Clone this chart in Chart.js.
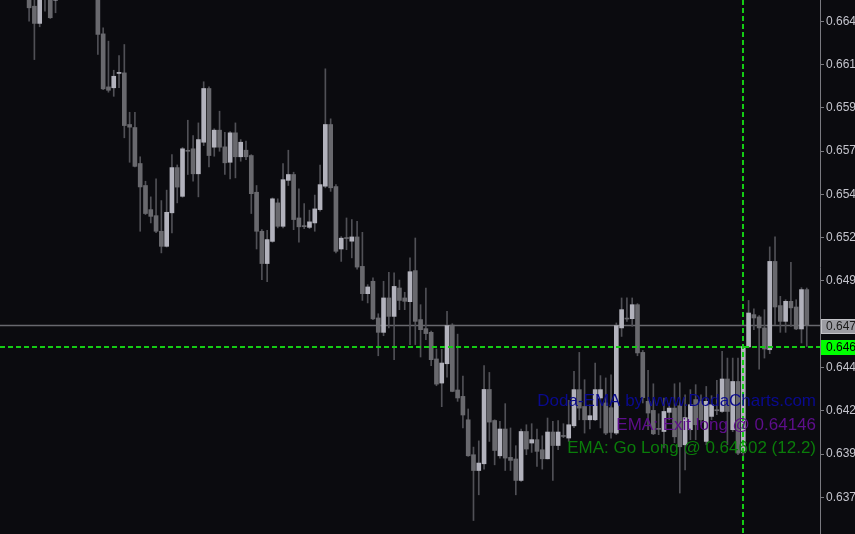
<!DOCTYPE html>
<html><head><meta charset="utf-8">
<script src="https://cdn.jsdelivr.net/npm/chart.js@4.4.1/dist/chart.umd.min.js"></script>
<style>html,body{margin:0;padding:0;background:#0b0b0f;overflow:hidden}canvas{display:block}</style>
</head><body>
<canvas id="c" width="855" height="534"></canvas>
<script>
// ---- data (OHLC per bar, oldest first) ----
const opens = [
0.66620,0.66521,0.66424,0.66620,0.66590,0.66555,0.66600,0.66650,0.66690,0.66670,
0.66700,0.66660,0.66630,0.66610,0.66365,0.66066,0.66061,0.66142,0.66145,0.65854,
0.65837,0.65634,0.65510,0.65374,0.65340,0.65252,0.65167,0.65356,0.65611,0.65449,
0.65707,0.65717,0.65576,0.65754,0.66057,0.65726,0.65822,0.65728,0.65641,0.65807,
0.65672,0.65709,0.65679,0.65472,0.65252,0.65070,0.65195,0.65412,0.65280,0.65539,
0.65572,0.65327,0.65284,0.65274,0.65299,0.65374,0.65506,0.65854,0.65504,0.65152,
0.65214,0.65196,0.65220,0.65054,0.64900,0.64970,0.64763,0.64682,0.64876,0.64772,
0.64932,0.64876,0.64855,0.65030,0.64754,0.64703,0.64682,0.64532,0.64396,0.64505,
0.64723,0.64357,0.64321,0.64189,0.63992,0.63903,0.63941,0.64360,0.64185,0.63986,
0.64137,0.63977,0.63968,0.63847,0.64123,0.64058,0.64077,0.64020,0.63969,0.64120,
0.64044,0.64099,0.64086,0.64155,0.64359,0.64264,0.64189,0.64189,0.64312,0.64284,
0.64257,0.64114,0.64707,0.64761,0.64759,0.64838,0.64569,0.64293,0.64242,0.64139,
0.64123,0.64231,0.64255,0.64268,0.64048,0.64133,0.64303,0.64293,0.64067,0.64208,
0.64244,0.64236,0.64419,0.64133,0.64405,0.64003,0.64600,0.64782,0.64769,0.64707,
0.64584,0.65082,0.64833,0.64744,0.64857,0.64825,0.64701,0.64923];
const highs = [
0.66650,0.66600,0.66640,0.66650,0.66620,0.66620,0.66680,0.66720,0.66750,0.66730,
0.66760,0.66700,0.66680,0.66640,0.66399,0.66324,0.66160,0.66243,0.66305,0.65923,
0.65923,0.65672,0.65534,0.65446,0.65547,0.65425,0.65484,0.65684,0.65626,0.65724,
0.65878,0.65792,0.65863,0.66095,0.66066,0.65830,0.65929,0.65810,0.65814,0.65863,
0.65769,0.65760,0.65684,0.65510,0.65261,0.65257,0.65440,0.65435,0.65634,0.65709,
0.65585,0.65491,0.65408,0.65371,0.65456,0.65625,0.66168,0.65886,0.65515,0.65222,
0.65327,0.65318,0.65308,0.65246,0.64951,0.64989,0.64787,0.64970,0.65020,0.65017,
0.64977,0.64908,0.65102,0.65214,0.64838,0.64932,0.64689,0.64588,0.64586,0.64800,
0.64731,0.64672,0.64436,0.64250,0.64035,0.64070,0.64494,0.64456,0.64189,0.64180,
0.64280,0.64143,0.64043,0.64137,0.64161,0.64167,0.64137,0.64099,0.64199,0.64180,
0.64185,0.64167,0.64299,0.64462,0.64569,0.64415,0.64274,0.64509,0.64438,0.64425,
0.64443,0.64735,0.64876,0.64876,0.64876,0.64844,0.64580,0.64468,0.64392,0.64223,
0.64312,0.64280,0.64392,0.64398,0.64330,0.64359,0.64387,0.64330,0.64377,0.64325,
0.64411,0.64575,0.64537,0.64537,0.64537,0.64605,0.64862,0.64814,0.64776,0.64810,
0.65164,0.65220,0.64885,0.64866,0.65077,0.64866,0.64934,0.64932];
const lows = [
0.66437,0.66220,0.66405,0.66493,0.66452,0.66484,0.66570,0.66610,0.66640,0.66620,
0.66640,0.66600,0.66580,0.66249,0.66051,0.66036,0.66013,0.66061,0.65779,0.65641,
0.65615,0.65252,0.65346,0.65299,0.65244,0.65130,0.65163,0.65243,0.65412,0.65444,
0.65572,0.65534,0.65446,0.65735,0.65615,0.65675,0.65703,0.65572,0.65547,0.65553,
0.65647,0.65656,0.65352,0.65152,0.64979,0.64968,0.65190,0.65271,0.65271,0.65510,
0.65261,0.65190,0.65267,0.65267,0.65252,0.65365,0.65497,0.65477,0.65130,0.65082,
0.65148,0.65102,0.65038,0.64862,0.64848,0.64754,0.64550,0.64663,0.64707,0.64528,
0.64810,0.64810,0.64613,0.64613,0.64543,0.64641,0.64494,0.64381,0.64263,0.64430,
0.64347,0.64293,0.64143,0.63983,0.63621,0.63766,0.63911,0.64067,0.63935,0.63973,
0.63903,0.63903,0.63766,0.63841,0.63992,0.64005,0.63926,0.63911,0.63968,0.63847,
0.64020,0.64088,0.64067,0.64144,0.64189,0.64114,0.64137,0.64184,0.64143,0.64105,
0.64086,0.64105,0.64659,0.64744,0.64716,0.64550,0.64284,0.64133,0.64105,0.64105,
0.64030,0.64189,0.64060,0.63776,0.63907,0.64077,0.64077,0.64161,0.64048,0.64189,
0.64218,0.64231,0.64048,0.64122,0.63992,0.63964,0.64596,0.64697,0.64475,0.64537,
0.64562,0.64725,0.64682,0.64682,0.64716,0.64697,0.64622,0.64603];
const closes = [
0.66512,0.66424,0.66610,0.66575,0.66456,0.66565,0.66650,0.66690,0.66670,0.66700,
0.66660,0.66630,0.66610,0.66362,0.66055,0.66047,0.66126,0.66147,0.65848,0.65839,
0.65618,0.65502,0.65352,0.65336,0.65252,0.65167,0.65359,0.65611,0.65501,0.65717,
0.65703,0.65576,0.65769,0.66057,0.65679,0.65822,0.65726,0.65638,0.65807,0.65672,
0.65754,0.65672,0.65464,0.65252,0.65070,0.65205,0.65435,0.65280,0.65543,0.65572,
0.65318,0.65277,0.65278,0.65305,0.65378,0.65515,0.65854,0.65497,0.65139,0.65213,
0.65211,0.65220,0.65050,0.64900,0.64938,0.64758,0.64682,0.64876,0.64772,0.64941,
0.64862,0.64857,0.65024,0.64744,0.64697,0.64675,0.64528,0.64390,0.64509,0.64720,
0.64349,0.64312,0.64216,0.63986,0.63903,0.63945,0.64360,0.64176,0.64016,0.64137,
0.63973,0.63960,0.63847,0.64123,0.64024,0.64077,0.64011,0.63969,0.64120,0.64044,
0.64120,0.64095,0.64161,0.64359,0.64255,0.64189,0.64212,0.64359,0.64359,0.64114,
0.64118,0.64720,0.64810,0.64757,0.64838,0.64566,0.64314,0.64227,0.64110,0.64135,
0.64236,0.64255,0.64093,0.64037,0.64201,0.64274,0.64161,0.64189,0.64293,0.64274,
0.64240,0.64419,0.64236,0.64405,0.64001,0.64602,0.64791,0.64763,0.64707,0.64588,
0.65082,0.64825,0.64744,0.64857,0.64820,0.64701,0.64923,0.64721];
const barLabels = opens.map((_, i) => 'bar ' + (i + 1));

// price-axis tick labels and chart annotations
const tickValues = [0.66436,0.66192,0.65948,0.65704,0.65460,0.65216,0.64972,0.64728,0.64484,0.64240,0.63996,0.63752];
const bidPrice = 0.64721;
const goLongPrice = 0.64602;
const goLongBar = 135;
const exitLongPrice = 0.64146;
const infoLines = [
  {text: 'Doda-EMA by www.DodaCharts.com', color: '#0a0a8e'},
  {text: 'EMA: Exit long @ ' + exitLongPrice.toFixed(5), color: '#5e0e8c'},
  {text: 'EMA: Go Long @ ' + goLongPrice.toFixed(5) + ' (12.2)', color: '#0a7c0a'}
];

// ---- layout / style ----
const LEAD = 5, TRAIL = 2;
const BG = '#0b0b0f', UP = '#b2b2bc', DOWN = '#69696e', WICK = '#505056', AXIS = '#7a7a80';
const pad = a => [...Array(LEAD).fill(null), ...a, ...Array(TRAIL).fill(null)];
const labels = [...Array(LEAD).fill(''), ...barLabels, ...Array(TRAIL).fill('')];
const wickData = pad(lows.map((l, i) => [l, highs[i]]));
const bodyData = pad(opens.map((o, i) => [o, closes[i]]));
const bodyColors = pad(opens.map((o, i) => closes[i] > o ? UP : DOWN));
const AXIS_FONT = '12px "Liberation Sans", Arial, sans-serif';

const overlay = {
  id: 'overlay',
  beforeDraw(chart) {
    const c = chart.ctx; c.save(); c.fillStyle = BG; c.fillRect(0, 0, chart.width, chart.height); c.restore();
  },
  beforeDatasetsDraw(chart) {
    const c = chart.ctx, a = chart.chartArea, y = chart.scales.y;
    const py = Math.round(y.getPixelForValue(bidPrice)) + 0.5;
    c.save(); c.strokeStyle = '#68686e'; c.lineWidth = 1.5;
    c.beginPath(); c.moveTo(a.left, py); c.lineTo(a.right, py); c.stroke(); c.restore();
  },
  afterDatasetsDraw(chart) {
    const c = chart.ctx, a = chart.chartArea, y = chart.scales.y, x = chart.scales.x;
    const gy = Math.round(y.getPixelForValue(goLongPrice));
    const gx = Math.round(x.getPixelForValue(goLongBar + LEAD));
    c.save();
    c.strokeStyle = '#14cc14'; c.lineWidth = 2; c.setLineDash([5, 3]);
    c.beginPath(); c.moveTo(a.left, gy); c.lineTo(a.right, gy); c.stroke();
    c.beginPath(); c.moveTo(gx, a.top); c.lineTo(gx, a.bottom); c.stroke();
    c.setLineDash([]);
    c.font = '17px "Liberation Sans", Arial, sans-serif';
    c.textAlign = 'right'; c.textBaseline = 'alphabetic';
    const baselines = [406, 429.5, 453];
    infoLines.forEach((l, i) => { c.fillStyle = l.color; c.fillText(l.text, 816, baselines[i]); });
    c.restore();
  },
  afterDraw(chart) {
    const c = chart.ctx, y = chart.scales.y;
    const box = (v, fill, stroke, txt, dy) => {
      const py = y.getPixelForValue(v) + dy;
      c.save();
      c.fillStyle = fill; c.fillRect(821, Math.round(py - 7.5), 40, 15);
      if (stroke) { c.strokeStyle = stroke; c.lineWidth = 1; c.strokeRect(821.5, Math.round(py - 7.5) + 0.5, 40, 14); }
      c.fillStyle = txt; c.font = AXIS_FONT;
      c.textAlign = 'left'; c.textBaseline = 'middle';
      c.fillText(v.toFixed(5), 826, py + 0.5);
      c.restore();
    };
    box(bidPrice, '#9c9ca2', '#c4c4c8', '#1a1a1a', 1);
    box(goLongPrice, '#00ff00', null, '#000000', 1);
  }
};

new Chart(document.getElementById('c'), {
  type: 'bar',
  data: {
    labels,
    datasets: [
      {label: 'range', data: wickData, backgroundColor: WICK, barThickness: 1, grouped: false, order: 2, borderWidth: 0},
      {label: 'body', data: bodyData, backgroundColor: bodyColors, barThickness: 4, grouped: false, order: 1, borderWidth: 0, minBarLength: 1}
    ]
  },
  options: {
    responsive: false, animation: false, devicePixelRatio: 1,
    layout: {padding: 0},
    plugins: {legend: {display: false}, tooltip: {enabled: false}},
    scales: {
      x: {type: 'category', display: false, offset: true, grid: {display: false}},
      y: {
        position: 'right', min: 0.63545, max: 0.66556,
        afterBuildTicks: s => { s.ticks = tickValues.map(v => ({value: v})); },
        afterFit: s => { s.width = 35; s.paddingTop = 0; s.paddingBottom = 0; },
        grid: {drawOnChartArea: false, drawTicks: true, tickLength: 4, color: AXIS},
        border: {display: true, color: AXIS, width: 1},
        ticks: {color: '#c4c4cc', padding: 2, autoSkip: false, font: {family: '"Liberation Sans", Arial, sans-serif', size: 12},
                callback: v => Number(v).toFixed(5)}
      }
    }
  },
  plugins: [overlay]
});
</script>
</body></html>
